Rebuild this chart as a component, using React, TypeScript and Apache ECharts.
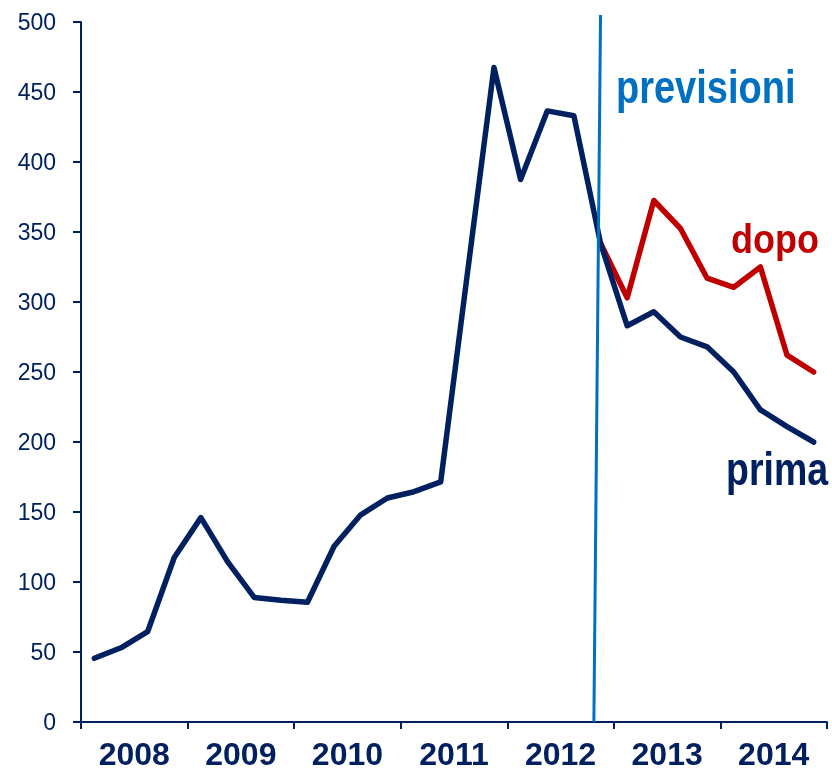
import React, { useEffect, useRef } from "react";
import * as echarts from "echarts";

const years = ["2008", "2009", "2010", "2011", "2012", "2013", "2014"];
const yTicks = { min: 0, max: 500, interval: 50 };
// quarterly values, 2008 Q1 .. 2014 Q4
const prima = [
  45.5, 53, 64.5, 117.5, 146, 114.5, 89, 87, 85.5, 125.5, 148, 160, 164.5, 171.5,
  320, 467.5, 387.5, 436.5, 433, 342, 283, 293, 275, 268, 250, 223, 211, 200,
];
const dopo = [
  null, null, null, null, null, null, null, null, null, null, null, null, null, null,
  null, null, null, null, null, 342, 303, 372.5, 352.5, 317, 310.5, 325, 262, 250,
];
const forecastLine = [
  [19.5, 505],
  [19.25, 0],
];
const labels = [
  { text: "previsioni", color: "#0070c0" },
  { text: "dopo", color: "#c00000" },
  { text: "prima", color: "#002060" },
];

const NAVY = "#002060";
const FONT = "'Liberation Sans', Arial, sans-serif";

export default function App() {
  const ref = useRef<HTMLDivElement>(null);
  useEffect(() => {
    document.body.style.margin = "0";
    const chart = echarts.init(ref.current!, null, { renderer: "svg" });
    const toPts = (arr: (number | null)[]) =>
      arr.map((v, i) => [i + 0.5, v]).filter((p) => p[1] !== null);
    chart.setOption({
      animation: false,
      grid: { left: 81, right: 5, top: 22, bottom: 49 },
      xAxis: [
        { type: "value", min: 0, max: 28, show: false },
        {
          type: "category",
          position: "bottom",
          data: years,
          boundaryGap: true,
          axisLine: { show: true, lineStyle: { color: NAVY, width: 2 } },
          axisTick: { show: true, length: 7, lineStyle: { color: NAVY, width: 2 } },
          axisLabel: {
            color: NAVY,
            fontFamily: FONT,
            fontWeight: "bold",
            fontSize: 32,
            margin: 16,
          },
          splitLine: { show: false },
        },
      ],
      yAxis: {
        type: "value",
        min: yTicks.min,
        max: yTicks.max,
        interval: yTicks.interval,
        axisLine: { show: true, lineStyle: { color: NAVY, width: 2 } },
        axisTick: { show: true, length: 8, lineStyle: { color: NAVY, width: 2 } },
        axisLabel: { color: NAVY, fontFamily: FONT, fontSize: 23, margin: 25 },
        splitLine: { show: false },
      },
      series: [
        {
          type: "line",
          xAxisIndex: 0,
          data: toPts(prima),
          symbol: "none",
          lineStyle: { color: NAVY, width: 5.5, join: "round", cap: "round" },
          z: 3,
        },
        {
          type: "line",
          xAxisIndex: 0,
          data: toPts(dopo),
          symbol: "none",
          lineStyle: { color: "#c00000", width: 5.5, join: "round", cap: "round" },
          z: 2,
        },
      ],
    });
    const p1 = chart.convertToPixel({ xAxisIndex: 0, yAxisIndex: 0 }, forecastLine[0]);
    const p2 = chart.convertToPixel({ xAxisIndex: 0, yAxisIndex: 0 }, forecastLine[1]);
    const textEl = (t: { text: string; color: string }, x: number, y: number, size: number, sy: number) => ({
      type: "text",
      x,
      y,
      scaleX: 1,
      scaleY: sy,
      z: 20,
      style: {
        text: t.text,
        fill: t.color,
        font: `bold ${size}px ${FONT}`,
        textAlign: "left",
        textVerticalAlign: "middle",
      },
    });
    chart.setOption({
      graphic: [
        {
          type: "line",
          z: 10,
          shape: { x1: p1[0], y1: p1[1], x2: p2[0], y2: p2[1] },
          style: { stroke: "#0070c0", lineWidth: 3 },
        },
        textEl(labels[0], 616, 87, 38, 1.22),
        textEl(labels[1], 731, 238.5, 36, 1.15),
        textEl(labels[2], 726, 468.7, 37.5, 1.22),
      ],
    });
    return () => chart.dispose();
  }, []);
  return (
    <div
      ref={ref}
      style={{ position: "fixed", left: 0, top: 0, width: 832, height: 771 }}
    />
  );
}
